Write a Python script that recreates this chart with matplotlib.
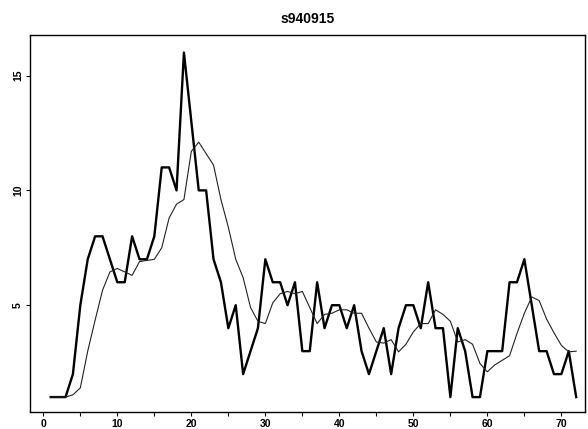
import numpy as np
import matplotlib
matplotlib.use('Agg')
import matplotlib.pyplot as plt
from matplotlib.ticker import MultipleLocator

# 观测序列 (t = 1..72)
t = np.arange(1, 73)
observed = [1, 1, 1, 2, 5, 7, 8, 8, 7, 6,
            6, 8, 7, 7, 8, 11, 11, 10, 16, 13,
            10, 10, 7, 6, 4, 5, 2, 3, 4, 7,
            6, 6, 5, 6, 3, 3, 6, 4, 5, 5,
            4, 5, 3, 2, 3, 4, 2, 4, 5, 5,
            4, 6, 4, 4, 1, 4, 3, 1, 1, 3,
            3, 3, 6, 6, 7, 5, 3, 3, 2, 2,
            3, 1]
# 平滑序列
smoothed = [1.0, 1.0, 1.0, 1.1, 1.4, 3.0, 4.35, 5.65, 6.45, 6.6,
            6.45, 6.3, 6.9, 6.95, 7.0, 7.5, 8.8, 9.4, 9.6, 11.7,
            12.1, 11.6, 11.1, 9.6, 8.4, 7.0, 6.2, 4.9, 4.3, 4.2,
            5.1, 5.5, 5.6, 5.5, 5.6, 4.9, 4.2, 4.6, 4.65, 4.8,
            4.8, 4.65, 4.65, 4.0, 3.4, 3.35, 3.5, 2.97, 3.3, 3.84,
            4.2, 4.2, 4.8, 4.6, 4.3, 3.4, 3.5, 3.3, 2.46, 2.1,
            2.4, 2.6, 2.8, 3.77, 4.65, 5.36, 5.2, 4.4, 3.8, 3.25,
            2.97, 3.0]

plt.rcParams['font.family'] = ['Liberation Sans', 'DejaVu Sans']

fig = plt.figure(figsize=(5.88, 4.29), dpi=100)
ax = fig.add_axes([0.051, 0.0396, 0.944, 0.878])

ax.plot(t, observed, color='black', lw=1.7)
ax.plot(t, smoothed, color='#222222', lw=0.8)

ax.set_xlim(-1.8, 73.2)
ax.set_ylim(0.35, 16.75)
ax.xaxis.set_major_locator(MultipleLocator(10))
ax.xaxis.set_minor_locator(MultipleLocator(5))
ax.set_yticks([5, 10, 15])
ax.tick_params(axis='both', which='both', direction='out', length=3, width=0.8,
               labelsize=7.5, pad=2)
for lab in ax.get_xticklabels():
    lab.set_fontweight('bold')
for lab in ax.get_yticklabels():
    lab.set_fontweight('bold')
    lab.set_rotation(90)
    lab.set_va('center')
for s in ax.spines.values():
    s.set_linewidth(1.0)

ax.set_title('s940915', fontsize=10, fontweight='bold', pad=9)

fig.savefig('out.png', dpi=100)
